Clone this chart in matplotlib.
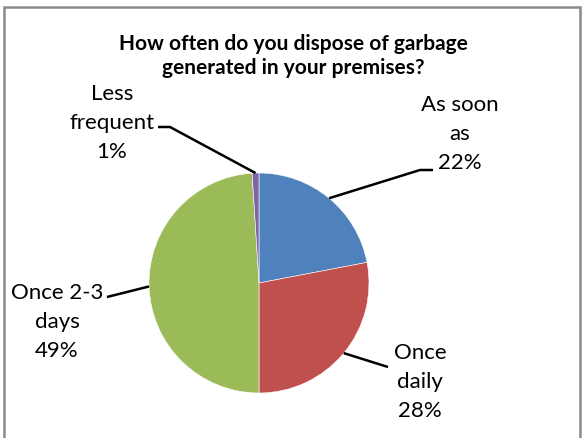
import matplotlib
matplotlib.use("Agg")
import matplotlib.pyplot as plt
import numpy as np
from matplotlib.patches import Rectangle

categories = ["As soon\nas", "Once\ndaily", "Once 2-3\ndays", "Less\nfrequent"]
values = [22, 28, 49, 1]
colors = ["#4F81BD", "#C0504D", "#9BBB59", "#8064A2"]
title = "How often do you dispose of garbage\ngenerated in your premises?"

W, H = 583, 439
fig = plt.figure(figsize=(W / 100, H / 100), dpi=100)
ax = fig.add_axes([0, 0, 1, 1])

FONT = ["Lato", "DejaVu Sans"]

# frame (bottom edge lies outside the image, as in the reference)
fig.patches.append(Rectangle((4 / W, -10 / H), 576 / W, (H + 2) / H, transform=fig.transFigure,
                             fill=False, edgecolor="#8a8a8a", linewidth=1.8))

cx, cy, r = 259, H - 284, 110
wedges, _ = ax.pie(values, colors=colors, startangle=90, counterclock=False,
                   center=(cx, cy), radius=r, frame=True,
                   wedgeprops=dict(edgecolor="white", linewidth=0.4))
ax.set_xlim(0, W)
ax.set_ylim(0, H)
ax.set_aspect("equal")
ax.axis("off")

ax.text(293, H - 56, title, ha="center", va="center", fontsize=15,
        fontweight="bold", family=FONT, linespacing=1.3)

# label positions (pixel layout) and leader elbows
label_pos = [(460, 134), (420, 382), (57, 322), (112, 123)]
elbows = [(420, 171), (388, 368), (107, 298), (170, 128)]
ends = [(433, 171), (388, 368), (107, 298), (158, 128)]

for w, v, cat, (tx, ty), (ex, ey), (fx, fy) in zip(wedges, values, categories,
                                                    label_pos, elbows, ends):
    ang = np.deg2rad((w.theta1 + w.theta2) / 2)
    px, py = cx + r * np.cos(ang), cy + r * np.sin(ang)
    ax.plot([px, ex, fx], [py, H - ey, H - fy], color="black", linewidth=1.8,
            solid_capstyle="butt")
    ax.text(tx, H - ty, f"{cat}\n{v}%", ha="center", va="center", fontsize=16,
            family=FONT, linespacing=1.55)

fig.savefig("out.png", dpi=100)
